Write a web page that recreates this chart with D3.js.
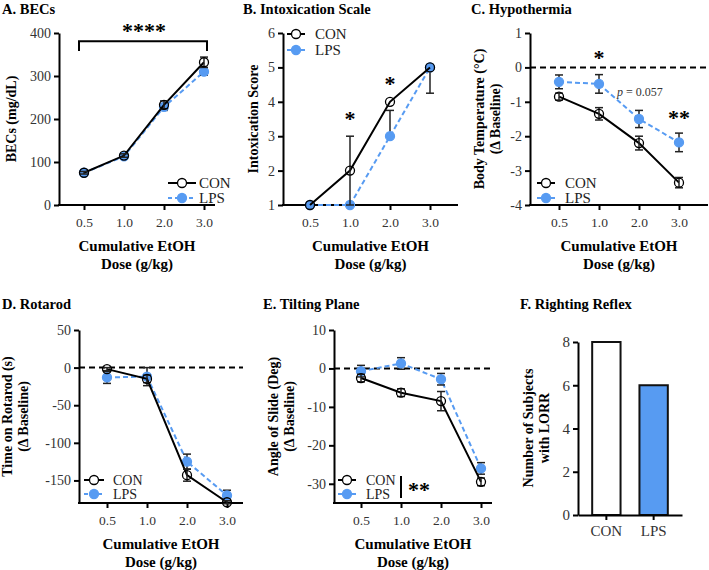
<!DOCTYPE html>
<html>
<head>
  <meta charset="utf-8">
  <title>EtOH panels</title>
  <style>
    body { margin: 0; background: #fff; }
  </style>
</head>
<body>
  <svg width="709" height="570" font-family="'Liberation Serif', 'DejaVu Serif', serif"></svg>
  <script src="https://d3js.org/d3.v7.min.js"></script>
  <script>

  // data
  var doses = ["0.5", "1.0", "2.0", "3.0"];

  var becCon = [75, 115, 233, 332], becConErr = [3, 4, 9, 12];
  var becLps = [75, 113, 228, 310], becLpsErr = [3, 4, 8, 8];

  var intoxCon = [1, 2, 4, 5], intoxConUp = [0, 1, 0, 0], intoxConDn = [0, 1, 0, 0];
  var intoxLps = [1, 1, 3, 5], intoxLpsUp = [0, 0, 0.75, 0], intoxLpsDn = [0, 0, 0, 0.75];

  var tempCon = [-0.85, -1.35, -2.2, -3.35], tempConErr = [0.1, 0.18, 0.2, 0.15];
  var tempLps = [-0.42, -0.48, -1.5, -2.18], tempLpsErr = [0.2, 0.27, 0.25, 0.27];

  var rotaCon = [-2, -15, -143, -179], rotaConErr = [2, 5, 8, 2];
  var rotaLps = [-13, -12, -125, -170], rotaLpsErr = [8, 12, 10, 7];

  var tiltCon = [-2.5, -6.3, -8.5, -29.5], tiltConErr = [1, 1, 2.5, 1];
  var tiltLps = [-0.7, 1.3, -2.8, -26], tiltLpsErr = [1.5, 1.5, 1.5, 1.5];

  var lorrGroups = ["CON", "LPS"];
  var lorrCounts = [8, 6];

  var blue = "#579bf2";
  var serif = "'Liberation Serif', 'DejaVu Serif', serif";
  var svg = d3.select("svg");

  function styleAxis(g, fs) {
    g.attr("font-family", serif);
    g.selectAll("path.domain").attr("stroke", "#000").attr("stroke-width", 2);
    g.selectAll(".tick line").attr("stroke", "#000").attr("stroke-width", 2);
    g.selectAll(".tick text").attr("font-size", fs).attr("fill", "#333");
  }

  // one line panel
  function linePanel(c) {
    var x = d3.scalePoint().domain(doses).range(c.xr);
    var y = d3.scaleLinear().domain(c.yd).range(c.yr);
    var g = svg.append("g");

    // title
    g.append("text").attr("x", c.tx).attr("y", c.ty)
      .attr("font-size", 14.5).attr("font-weight", "bold").text(c.title);

    // y title
    c.ylab.forEach(function(s, i) {
      g.append("text")
        .attr("transform", "translate(" + (c.ylx + i * 16) + "," + ((c.yr[0] + c.yr[1]) / 2) + ") rotate(-90)")
        .attr("text-anchor", "middle").attr("font-size", 14).attr("font-weight", "bold")
        .text(s);
    });

    // zero line
    if (c.zero) {
      g.append("line").attr("x1", c.left).attr("x2", c.right)
        .attr("y1", y(0)).attr("y2", y(0))
        .attr("stroke", "#000").attr("stroke-width", 2).attr("stroke-dasharray", "6,4");
    }

    // axes
    var ya = g.append("g").attr("transform", "translate(" + c.left + ",0)")
      .call(d3.axisLeft(y).tickValues(c.yt).tickFormat(String).tickSize(5).tickSizeOuter(0).tickPadding(3));
    styleAxis(ya, 14);
    g.append("line").attr("x1", c.left - 1).attr("x2", c.right)
      .attr("y1", c.yr[0]).attr("y2", c.yr[0]).attr("stroke", "#000").attr("stroke-width", 2);
    var xa = g.append("g").attr("transform", "translate(0," + c.yr[0] + ")")
      .call(d3.axisBottom(x).tickSize(5).tickPadding(7));
    xa.select("path.domain").remove();
    styleAxis(xa, 13.5);

    // x title
    var xm = (c.left + c.right) / 2;
    g.append("text").attr("x", xm).attr("y", c.yr[0] + 46).attr("text-anchor", "middle")
      .attr("font-size", 15).attr("font-weight", "bold").text("Cumulative EtOH");
    g.append("text").attr("x", xm).attr("y", c.yr[0] + 64).attr("text-anchor", "middle")
      .attr("font-size", 15).attr("font-weight", "bold").text("Dose (g/kg)");

    // series
    var series = [
      { v: c.lps, up: c.lpsUp, dn: c.lpsDn, color: blue, dash: "5,3", fill: blue },
      { v: c.con, up: c.conUp, dn: c.conDn, color: "#000", dash: null, fill: "#fff" }
    ];
    series.forEach(function(s) {
      var line = d3.line().x(function(d, i) { return x(doses[i]); }).y(function(d) { return y(d); });
      g.append("path").datum(s.v).attr("d", line).attr("fill", "none")
        .attr("stroke", s.color).attr("stroke-width", 2).attr("stroke-dasharray", s.dash);
      var eb = g.append("g").attr("stroke", "#222").attr("stroke-width", 1.5);
      s.v.forEach(function(d, i) {
        var px = x(doses[i]), hi = y(d + s.up[i]), lo = y(d - s.dn[i]);
        if (s.up[i] > 0) {
          eb.append("line").attr("x1", px).attr("x2", px).attr("y1", y(d)).attr("y2", hi);
          eb.append("line").attr("x1", px - 4).attr("x2", px + 4).attr("y1", hi).attr("y2", hi);
        }
        if (s.dn[i] > 0) {
          eb.append("line").attr("x1", px).attr("x2", px).attr("y1", y(d)).attr("y2", lo);
          eb.append("line").attr("x1", px - 4).attr("x2", px + 4).attr("y1", lo).attr("y2", lo);
        }
      });
      g.selectAll(null).data(s.v).enter().append("circle")
        .attr("cx", function(d, i) { return x(doses[i]); })
        .attr("cy", function(d) { return y(d); })
        .attr("r", 4.5)
        .attr("fill", s.fill)
        .attr("fill-opacity", s.fill === "#fff" ? 0 : 1)
        .attr("stroke", s.fill === "#fff" ? "#000" : blue).attr("stroke-width", 1.3);
    });

    // legend
    var lg = c.leg;
    [["CON", "#000", null, "none"], ["LPS", blue, "4,3", blue]].forEach(function(e, i) {
      var ly = lg.y + i * lg.dy;
      g.append("line").attr("x1", lg.x1).attr("x2", lg.x2).attr("y1", ly).attr("y2", ly)
        .attr("stroke", e[1]).attr("stroke-width", 2).attr("stroke-dasharray", e[2]);
      g.append("circle").attr("cx", (lg.x1 + lg.x2) / 2).attr("cy", ly).attr("r", 4.5)
        .attr("fill", e[3] === "none" ? "#fff" : e[3]).attr("stroke", e[1] === "#000" ? "#000" : blue)
        .attr("stroke-width", 1.3);
      g.append("text").attr("x", lg.tx).attr("y", ly + lg.fs * 0.33).attr("font-size", lg.fs)
        .attr("fill", "#222").text(e[0]);
    });

    return { g: g, x: x, y: y };
  }

  function star(g, px, py, s, size) {
    g.append("text").attr("x", px).attr("y", py).attr("text-anchor", "middle")
      .attr("font-size", size || 22).attr("font-weight", "bold").attr("dy", "0.7em")
      .text(s);
  }

  // A. BECs
  var A = linePanel({
    title: "A. BECs", tx: 2, ty: 14,
    xr: [84, 204], left: 59, right: 215,
    yd: [0, 400], yr: [205, 33], yt: [0, 100, 200, 300, 400],
    ylab: ["BECs (mg/dL)"], ylx: 16,
    con: becCon, conUp: becConErr, conDn: becConErr,
    lps: becLps, lpsUp: becLpsErr, lpsDn: becLpsErr,
    leg: { x1: 168, x2: 196, tx: 199, y: 183, dy: 15, fs: 15 }
  });
  A.g.append("path")
    .attr("d", "M" + (A.x("0.5") - 5) + "," + A.y(358) + "V" + A.y(381) + "H" + (A.x("3.0") + 3) + "V" + A.y(358))
    .attr("fill", "none").attr("stroke", "#000").attr("stroke-width", 2);
  star(A.g, (A.x("0.5") + A.x("3.0")) / 2, A.y(424), "****", 22);

  // B. Intoxication Scale
  var B = linePanel({
    title: "B. Intoxication  Scale", tx: 243, ty: 14,
    xr: [310, 430], left: 283, right: 458,
    yd: [1, 6], yr: [205, 33], yt: [1, 2, 3, 4, 5, 6],
    ylab: ["Intoxication Score"], ylx: 258,
    con: intoxCon, conUp: intoxConUp, conDn: intoxConDn,
    lps: intoxLps, lpsUp: intoxLpsUp, lpsDn: intoxLpsDn,
    leg: { x1: 287, x2: 305, tx: 315, y: 34, dy: 16, fs: 15 }
  });
  star(B.g, B.x("1.0"), B.y(3.75), "*", 22);
  star(B.g, B.x("2.0"), B.y(4.77), "*", 22);

  // C. Hypothermia
  var C = linePanel({
    title: "C. Hypothermia", tx: 471, ty: 14,
    xr: [559, 679], left: 530, right: 708,
    yd: [-4, 1], yr: [205, 33], yt: [-4, -3, -2, -1, 0, 1],
    ylab: ["Body Temperature (°C)", "(Δ Baseline)"], ylx: 484,
    con: tempCon, conUp: tempConErr, conDn: tempConErr,
    lps: tempLps, lpsUp: tempLpsErr, lpsDn: tempLpsErr,
    leg: { x1: 537, x2: 555, tx: 565, y: 183, dy: 15, fs: 15 }, zero: true
  });
  star(C.g, C.x("1.0"), C.y(0.52), "*", 22);
  star(C.g, C.x("3.0"), C.y(-1.22), "**", 22);
  var pt = C.g.append("text").attr("x", C.x("1.0") + 0.45 * C.x.step()).attr("y", C.y(-0.72) + 4)
    .attr("font-size", 12).attr("fill", "#333");
  pt.append("tspan").attr("font-style", "italic").text("p");
  pt.append("tspan").text(" = 0.057");

  // D. Rotarod
  var D = linePanel({
    title: "D. Rotarod", tx: 2, ty: 309,
    xr: [107, 227], left: 79, right: 243,
    yd: [-180, 50], yr: [503, 330], yt: [-150, -100, -50, 0, 50],
    ylab: ["Time on Rotarod (s)", "(Δ Baseline)"], ylx: 12,
    con: rotaCon, conUp: rotaConErr, conDn: rotaConErr,
    lps: rotaLps, lpsUp: rotaLpsErr, lpsDn: rotaLpsErr,
    leg: { x1: 84, x2: 104, tx: 113, y: 480, dy: 14, fs: 14 }, zero: true
  });

  // E. Tilting Plane
  var E = linePanel({
    title: "E. Tilting  Plane", tx: 263, ty: 309,
    xr: [361, 481], left: 334, right: 492,
    yd: [-35, 10], yr: [503, 330], yt: [-30, -20, -10, 0, 10],
    ylab: ["Angle of Slide (Deg)", "(Δ Baseline)"], ylx: 278,
    con: tiltCon, conUp: tiltConErr, conDn: tiltConErr,
    lps: tiltLps, lpsUp: tiltLpsErr, lpsDn: tiltLpsErr,
    leg: { x1: 338, x2: 356, tx: 366, y: 480, dy: 14, fs: 14 }, zero: true
  });
  E.g.append("line").attr("x1", E.x("1.0")).attr("x2", E.x("1.0"))
    .attr("y1", 476).attr("y2", 498).attr("stroke", "#000").attr("stroke-width", 2);
  star(E.g, E.x("1.0") + 18, 482, "**", 22);

  // F. Righting Reflex
  (function() {
    var g = svg.append("g");
    var x = d3.scaleBand().domain(lorrGroups).range([578, 682]).paddingInner(0.4).paddingOuter(0.3);
    var y = d3.scaleLinear().domain([0, 8]).range([515, 342]);
    g.append("text").attr("x", 520).attr("y", 309).attr("font-size", 14.5).attr("font-weight", "bold")
      .text("F. Righting  Reflex");
    ["Number of Subjects", "with LORR"].forEach(function(s, i) {
      g.append("text")
        .attr("transform", "translate(" + (533 + i * 16) + "," + 428 + ") rotate(-90)")
        .attr("text-anchor", "middle").attr("font-size", 14).attr("font-weight", "bold").text(s);
    });
    g.selectAll("rect").data(lorrCounts).enter().append("rect")
      .attr("x", function(d, i) { return x(lorrGroups[i]); })
      .attr("y", function(d) { return y(d); })
      .attr("width", x.bandwidth())
      .attr("height", function(d) { return y(0) - y(d); })
      .attr("fill", function(d, i) { return i === 0 ? "#fff" : blue; })
      .attr("stroke", "#111").attr("stroke-width", 2);
    var ya = g.append("g").attr("transform", "translate(578,0)")
      .call(d3.axisLeft(y).tickValues([0, 2, 4, 6, 8]).tickFormat(String).tickSize(5).tickSizeOuter(0).tickPadding(3));
    styleAxis(ya, 15);
    var xa = g.append("g").attr("transform", "translate(0,515)")
      .call(d3.axisBottom(x).tickSize(5).tickSizeOuter(0).tickPadding(5));
    styleAxis(xa, 15);
  })();

  </script>
</body>
</html>
